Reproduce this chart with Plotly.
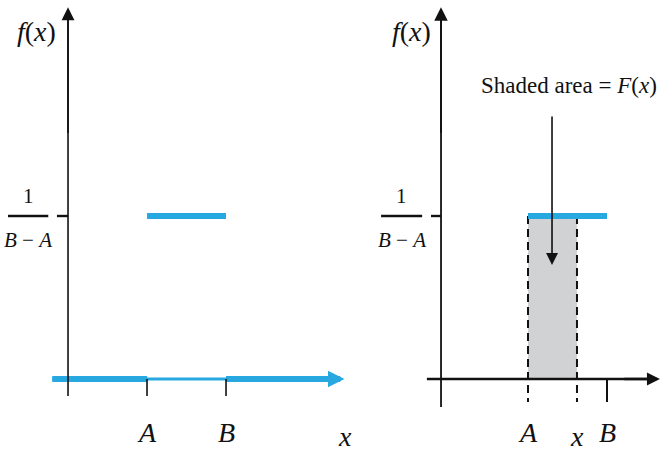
import plotly.graph_objects as go

# Uniform density on [A, B]: f(x) = 1/(B - A) between A and B, 0 elsewhere
A_POS = 1.0          # interval start on the horizontal axis
B_POS = 2.0          # interval end
X_POS = 1.62         # an arbitrary point x inside [A, B]
DENSITY = 1.0        # height 1/(B - A), in axis units

# Extent of the drawn axes (axis units)
left_axis_x = [-0.2, 3.5]
right_axis_x = [-0.28, 2.67]
y_axis_top = 2.28

BLUE = "#27A8E0"
GRAY = "#D1D2D4"
INK = "#111111"
SERIF = "Liberation Serif"

fig = go.Figure()


def seg(x, y, xa, ya, color=INK, width=2.0, dash="solid"):
    fig.add_trace(go.Scatter(
        x=x, y=y, xaxis=xa, yaxis=ya, mode="lines",
        line=dict(color=color, width=width, dash=dash),
        hoverinfo="skip", showlegend=False,
    ))


# ---------------- left panel: the density f(x) ----------------
# thin baseline running the whole axis
seg([left_axis_x[0], left_axis_x[1] - 0.1], [0, 0], "x", "y", BLUE, 2.8)
# density is zero outside [A, B]: thick blue along the axis
seg([left_axis_x[0], A_POS], [0, 0], "x", "y", BLUE, 6)
seg([B_POS, left_axis_x[1] - 0.12], [0, 0], "x", "y", BLUE, 6)
# density level between A and B
seg([A_POS, B_POS], [DENSITY, DENSITY], "x", "y", BLUE, 6)
# ticks at A and B
seg([A_POS, A_POS], [0, -0.104], "x", "y", INK, 1.6)
seg([B_POS, B_POS], [0, -0.104], "x", "y", INK, 1.6)
# vertical axis
seg([0, 0], [-0.104, y_axis_top - 0.05], "x", "y", INK, 1.6)
# tick and fraction bar for 1/(B - A)
seg([-0.14, 0], [DENSITY, DENSITY], "x", "y", INK, 2.4)
seg([-0.76, -0.25], [DENSITY, DENSITY], "x", "y", INK, 2.4)

# ---------------- right panel: F(x) as the shaded area ----------------
fig.add_trace(go.Scatter(
    x=[A_POS, X_POS, X_POS, A_POS, A_POS], y=[0, 0, DENSITY, DENSITY, 0],
    xaxis="x2", yaxis="y2", mode="lines", fill="toself", fillcolor=GRAY,
    line=dict(width=0), hoverinfo="skip", showlegend=False,
))
seg([right_axis_x[0], right_axis_x[1] - 0.1], [0, 0], "x2", "y2", INK, 2.6)
seg([-0.101, -0.101], [-0.172, y_axis_top - 0.05], "x2", "y2", INK, 1.8)
seg([A_POS, A_POS], [DENSITY, -0.141], "x2", "y2", INK, 2, "8px,5px")
seg([X_POS, X_POS], [DENSITY, -0.141], "x2", "y2", INK, 2, "8px,5px")
seg([B_POS, B_POS], [0, -0.141], "x2", "y2", INK, 2)
seg([A_POS, B_POS], [DENSITY, DENSITY], "x2", "y2", BLUE, 6)
seg([-0.228, -0.101], [DENSITY, DENSITY], "x2", "y2", INK, 2.4)
seg([-0.86, -0.34], [DENSITY, DENSITY], "x2", "y2", INK, 2.4)


def arrow(xa, ya, x0, y0, x1, y1, color=INK, width=1.6, size=1.4):
    fig.add_annotation(
        xref=xa, yref=ya, axref=xa, ayref=ya,
        x=x1, y=y1, ax=x0, ay=y0, text="", showarrow=True,
        arrowhead=2, arrowsize=size, arrowwidth=width, arrowcolor=color,
        standoff=0, startstandoff=0,
    )


arrow("x", "y", 0, 1.5, 0, y_axis_top, INK, 1.6, 1.6)
arrow("x", "y", 3.0, 0, left_axis_x[1], 0, BLUE, 6, 0.55)
arrow("x2", "y2", -0.101, 1.5, -0.101, y_axis_top, INK, 1.8, 1.5)
arrow("x2", "y2", 2.2, 0, right_axis_x[1], 0, INK, 2.6, 1.0)
# pointer from the caption into the shaded region
arrow("x2", "y2", 1.304, 1.62, 1.304, 0.70, INK, 1.6, 1.5)


def label(xa, ya, x, y, text, size=28):
    fig.add_annotation(
        xref=xa, yref=ya, x=x, y=y, text=text, showarrow=False,
        font=dict(family=SERIF, size=size, color=INK),
        xanchor="center", yanchor="middle",
    )


# left panel labels
label("x", "y", -0.40, 2.135, "<i>f</i>(<i>x</i>)", 28)
label("x", "y", -0.505, 1.12, "1", 21)
label("x", "y", -0.505, 0.85, "<i>B</i> − <i>A</i>", 21)
label("x", "y", A_POS, -0.33, "<i>A</i>")
label("x", "y", B_POS, -0.33, "<i>B</i>")
label("x", "y", 3.5, -0.355, "<i>x</i>")

# right panel labels
label("x2", "y2", -0.47, 2.135, "<i>f</i>(<i>x</i>)", 28)
label("x2", "y2", -0.60, 1.12, "1", 21)
label("x2", "y2", -0.60, 0.85, "<i>B</i> − <i>A</i>", 21)
label("x2", "y2", A_POS, -0.33, "<i>A</i>")
label("x2", "y2", X_POS, -0.355, "<i>x</i>")
label("x2", "y2", B_POS, -0.33, "<i>B</i>")
label("x2", "y2", 1.52, 1.80, "Shaded area = <i>F</i>(<i>x</i>)", 23)

hidden = dict(visible=False, fixedrange=True)
fig.update_layout(
    width=660, height=453,
    margin=dict(l=0, r=0, t=0, b=0),
    paper_bgcolor="white", plot_bgcolor="rgba(0,0,0,0)",
    showlegend=False,
    xaxis=dict(domain=[0, 0.55], range=[-0.861, 3.734], **hidden),
    yaxis=dict(domain=[0, 1], range=[-0.454, 2.3252], **hidden),
    xaxis2=dict(domain=[0.55, 1], range=[-1.0886, 2.6709], anchor="y2", **hidden),
    yaxis2=dict(domain=[0, 1], range=[-0.454, 2.3252], anchor="x2", **hidden),
)

fig.write_html("out.html")
